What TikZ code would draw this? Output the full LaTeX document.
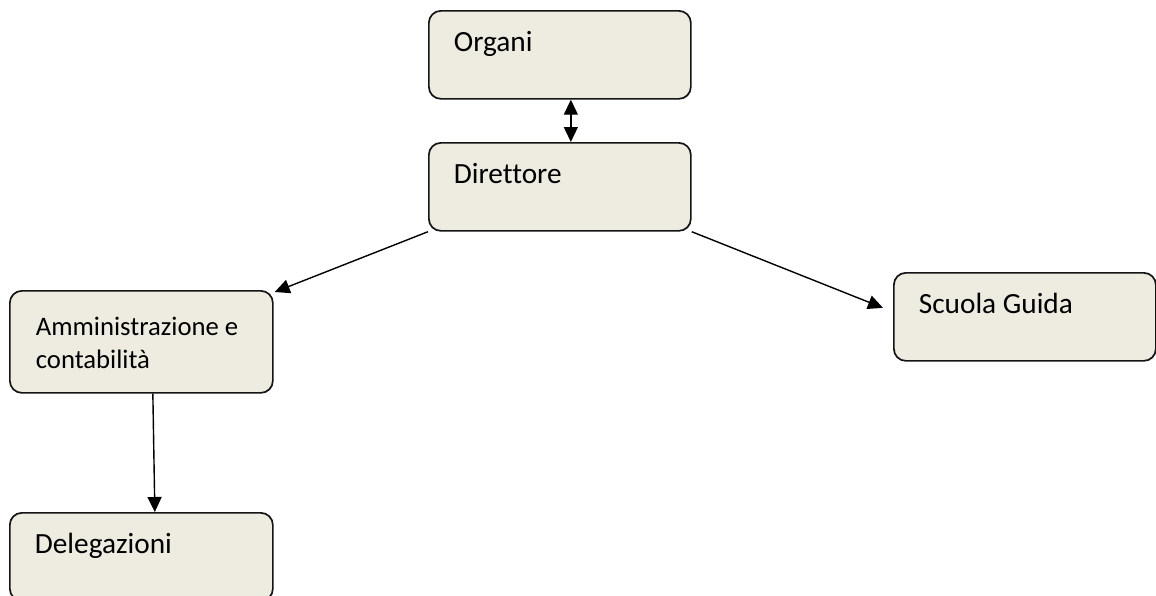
\documentclass[tikz,border=0pt]{standalone}
\usepackage{fontspec}
\setmainfont{Carlito}[Ligatures=NoCommon]
\usetikzlibrary{arrows.meta}
\definecolor{boxfill}{HTML}{EEECE1}
\definecolor{boxline}{HTML}{141414}
\tikzset{
  box/.style={draw=boxline, line width=1.7pt, fill=boxfill, rounded corners=12pt,
    anchor=north west, inner xsep=25pt, inner ysep=0pt, align=flush left,
    font=\fontsize{29.3}{35}\selectfont, text width=212pt,
    text height=41pt, text depth=47pt},
  conn/.style={line width=1.4pt, draw=black,
    -{Triangle[length=15pt,width=14pt]}},
  biconn/.style={line width=1.4pt, draw=black,
    {Triangle[length=15pt,width=14pt]}-{Triangle[length=15pt,width=14pt]}}
}
\begin{document}
\begin{tikzpicture}[x=1pt,y=-1pt]
\useasboundingbox (0,0) rectangle (1156,595);
\node[box] (org) at (428,10) {Organi};
\node[box] (dir) at (428,142) {Direttore};
\node[box, text width=211pt, inner xsep=26pt, text height=45pt, text depth=57pt,
      font=\fontsize{26.7}{33}\selectfont] (amm) at (9,290) {Amministrazione e\\contabilità};
\node[box, text width=213pt] (del) at (9,512) {Delegazioni};
\node[box] (sg) at (893,272) {Scuola Guida};
\draw[biconn] ([xshift=11pt]org.south) -- ([xshift=11pt]dir.north);
\draw[conn] (dir.south west) -- ([xshift=1pt,yshift=-2pt]amm.north east);
\draw[conn] (dir.south east) -- ([xshift=-10pt,yshift=9pt]sg.west);
\draw[conn] ([xshift=11.5pt]amm.south) -- ([xshift=13.5pt]del.north);
\end{tikzpicture}
\end{document}
